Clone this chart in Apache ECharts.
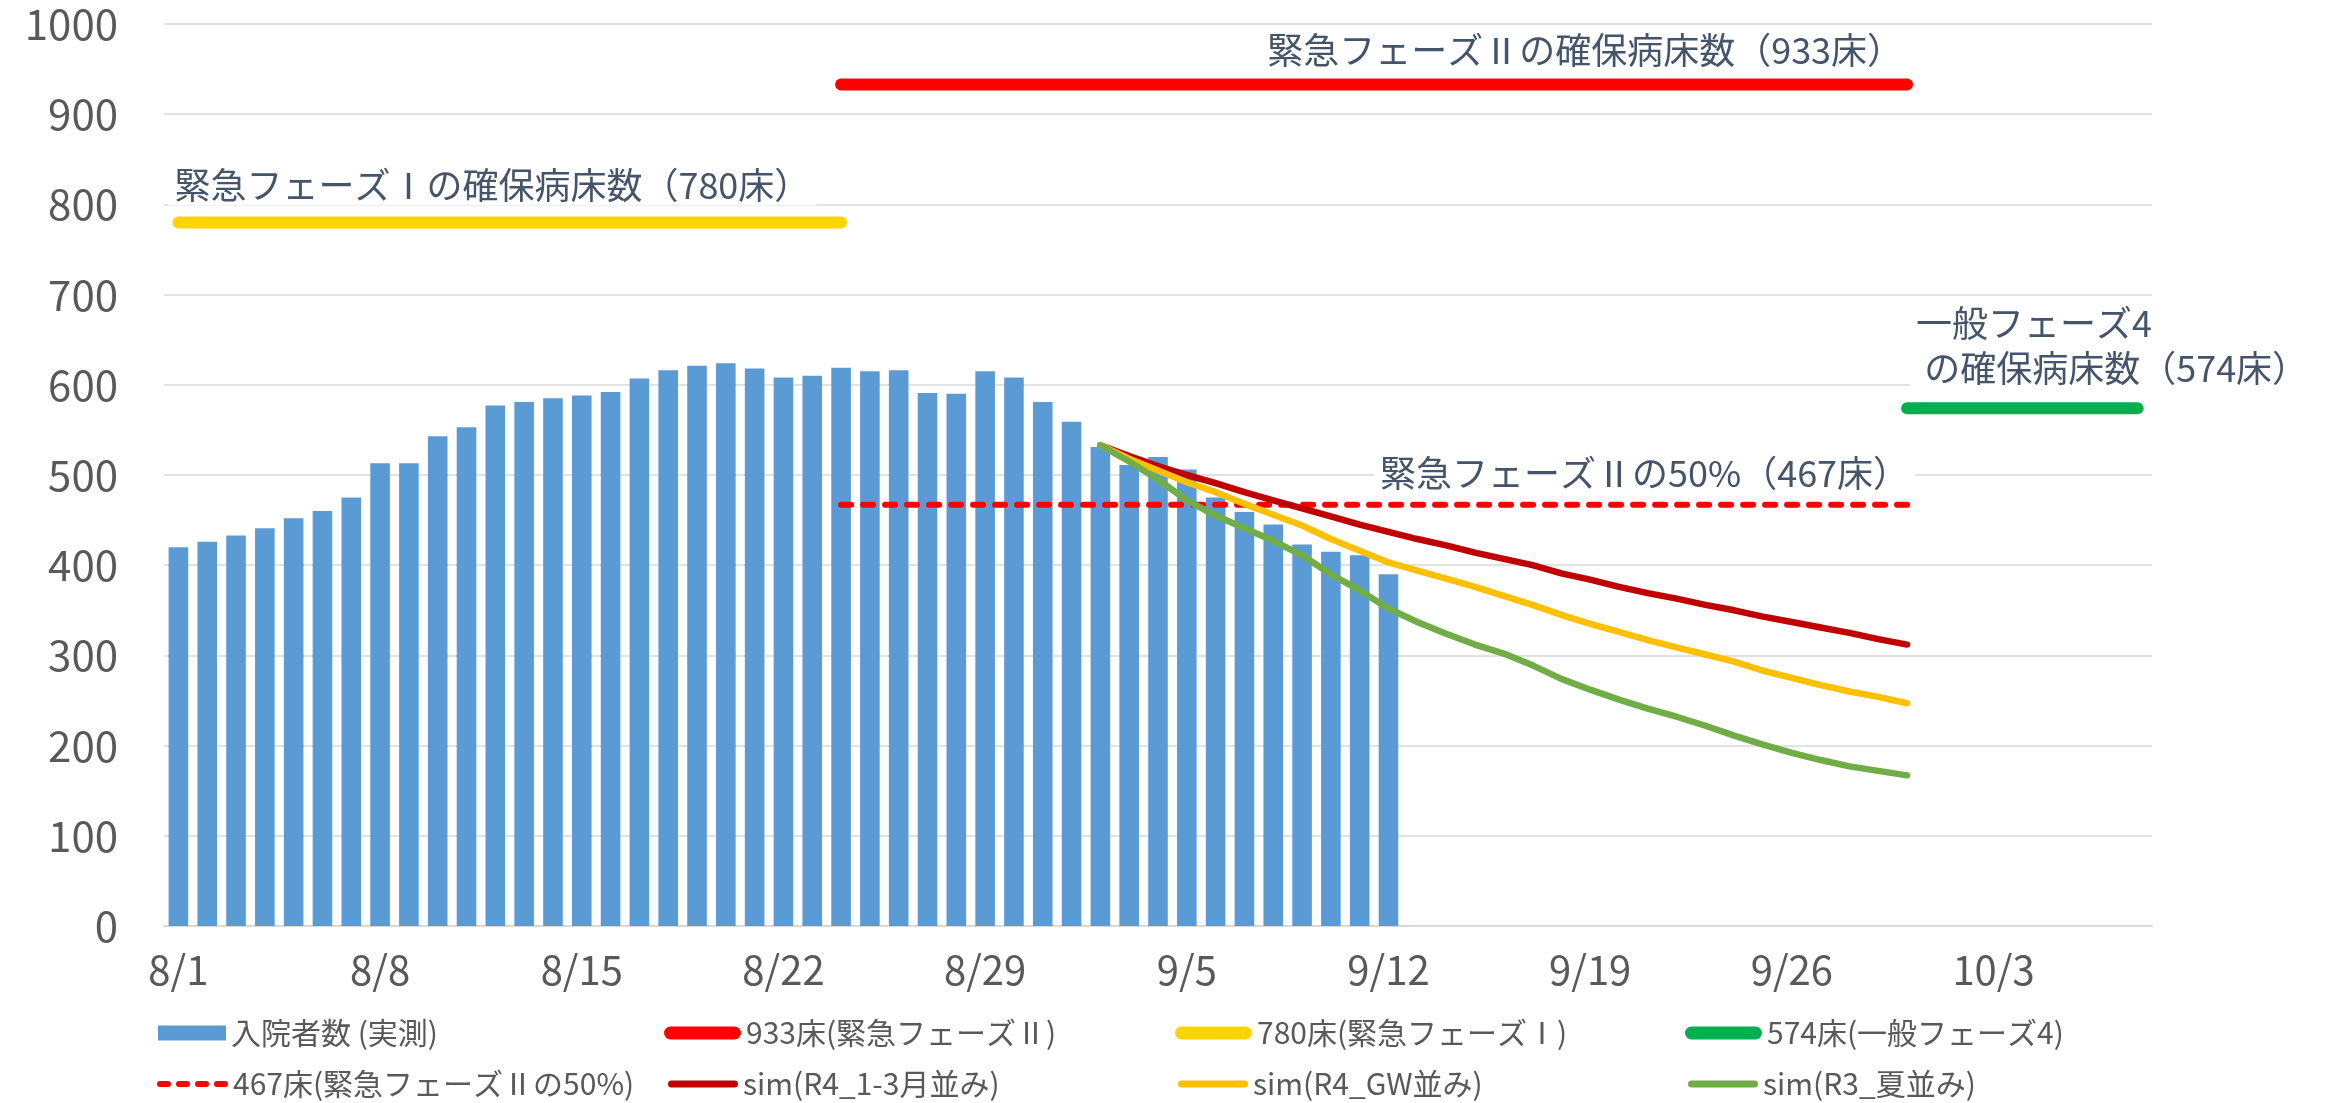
<!DOCTYPE html>
<html>
<head>
<meta charset="utf-8">
<script src="https://cdn.jsdelivr.net/npm/echarts@6/dist/echarts.min.js"></script>
<style>
html, body { margin: 0; padding: 0; background: #fff; }
#chart { width: 2351px; height: 1103px; }
</style>
</head>
<body>
<div id="chart"></div>
<script>
const FONT = "'Noto Sans CJK JP', 'Noto Sans', sans-serif";

// categories: one per day, 8/1 - 10/8
const dates = [
  '8/1','8/2','8/3','8/4','8/5','8/6','8/7','8/8','8/9','8/10','8/11','8/12','8/13','8/14','8/15','8/16',
  '8/17','8/18','8/19','8/20','8/21','8/22','8/23','8/24','8/25','8/26','8/27','8/28','8/29','8/30','8/31',
  '9/1','9/2','9/3','9/4','9/5','9/6','9/7','9/8','9/9','9/10','9/11','9/12','9/13','9/14','9/15','9/16',
  '9/17','9/18','9/19','9/20','9/21','9/22','9/23','9/24','9/25','9/26','9/27','9/28','9/29','9/30',
  '10/1','10/2','10/3','10/4','10/5','10/6','10/7','10/8'
];

// 入院者数 (実測) 8/1 - 9/12
const hospitalized = [
  420, 426, 433, 441, 452, 460, 475, 513, 513, 543, 553, 577, 581, 585, 588, 592, 607, 616, 621,
  624, 618, 608, 610, 619, 615, 616, 591, 590, 615, 608, 581,
  559, 531, 511, 520, 506, 475, 459, 445, 423, 415, 411, 390
];

// simulations 9/2 - 9/30
const simStart = '9/2';
const simR4Winter = [533, 521, 510, 500, 491, 481, 472, 463, 454, 445, 437, 429, 422, 414, 407,
  400, 391, 384, 376, 369, 363, 356, 350, 343, 337, 331, 325, 318, 312];
const simR4GW = [533, 518, 505, 492, 481, 468, 456, 444, 429, 416, 403, 394, 385, 376, 366,
  356, 345, 335, 326, 317, 309, 301, 293, 283, 275, 267, 260, 254, 247];
const simR3Summer = [533, 515, 495, 472, 455, 441, 427, 411, 390, 372, 352, 337, 324, 312, 302,
  289, 274, 262, 251, 241, 232, 222, 211, 201, 192, 184, 177, 172, 167];

// bed capacity lines
const bedsPhase2 = 933, phase2Range = ['8/24', '9/30'];
const bedsPhase1 = 780, phase1Range = ['8/1', '8/24'];
const bedsGeneral4 = 574, general4Range = ['9/30', '10/8'];
const bedsPhase2Half = 467, phase2HalfRange = ['8/24', '9/30'];

const noteStyle = {
    color: '#44546A',
    fontSize: 36,
    fontFamily: FONT,
    backgroundColor: '#ffffff',
    padding: [2, 6]
};

function spanData(value, range, note) {
    const from = dates.indexOf(range[0]);
    const to = dates.indexOf(range[1]);
    return dates.map((d, i) => {
        if (i < from || i > to) return '-';
        if (note && i === (note.at === 'end' ? to : from)) {
            return {
                value: value,
                symbol: 'circle',
                symbolSize: 2,
                itemStyle: { color: 'rgba(0,0,0,0)' },
                label: Object.assign({ show: true, position: 'top' }, noteStyle, note.label)
            };
        }
        return value;
    });
}

function simData(values) {
    const from = dates.indexOf(simStart);
    return dates.map((d, i) => (i >= from && i - from < values.length) ? values[i - from] : '-');
}

function lineSeries(name, color, width, data, extra) {
    return Object.assign({
        name: name,
        type: 'line',
        symbol: 'none',
        silent: true,
        itemStyle: { color: color },
        lineStyle: { color: color, width: width, cap: 'round', join: 'round' },
        data: data
    }, extra || {});
}

const pill = (w, h) => {
    const r = h / 2;
    return 'path://M' + r + ',0H' + (w - r) + 'A' + r + ',' + r + ',0,0,1,' + (w - r) + ',' + h +
        'H' + r + 'A' + r + ',' + r + ',0,0,1,' + r + ',0Z';
};
const dashedPill = (() => {
    let p = 'path://';
    for (let k = 0; k < 4; k++) {
        const x0 = k * 19;
        p += 'M' + (x0 + 3) + ',0H' + (x0 + 11) + 'A3,3,0,0,1,' + (x0 + 11) + ',6H' + (x0 + 3) + 'A3,3,0,0,1,' + (x0 + 3) + ',0Z';
    }
    return p;
})();

const legendText = { color: '#595959', fontSize: 30, fontFamily: FONT };
function legendAt(name, left, top, w, h, icon) {
    return {
        left: left, top: top, padding: 0, selectedMode: false,
        itemWidth: w, itemHeight: h,
        textStyle: legendText,
        data: [{ name: name, icon: icon }]
    };
}

const chart = echarts.init(document.getElementById('chart'));
chart.setOption({
    animation: false,
    backgroundColor: '#ffffff',
    grid: { left: 164, right: 199, top: 24, bottom: 177 },
    legend: [
        legendAt('入院者数 (実測)', 158, 1018, 68, 15, 'rect'),
        legendAt('933床(緊急フェーズⅡ)', 664, 1018, 77, 13, pill(77, 13)),
        legendAt('780床(緊急フェーズⅠ)', 1175, 1018, 77, 13, pill(77, 13)),
        legendAt('574床(一般フェーズ4)', 1685, 1018, 77, 13, pill(77, 13)),
        legendAt('467床(緊急フェーズⅡの50%)', 157, 1069, 71, 6, dashedPill),
        legendAt('sim(R4_1-3月並み)', 668, 1069, 70, 7, pill(70, 7)),
        legendAt('sim(R4_GW並み)', 1178, 1069, 70, 7, pill(70, 7)),
        legendAt('sim(R3_夏並み)', 1688, 1069, 70, 7, pill(70, 7))
    ],
    xAxis: {
        type: 'category',
        data: dates,
        boundaryGap: true,
        axisLine: { lineStyle: { color: '#D9D9D9', width: 2 } },
        axisTick: { show: false },
        axisLabel: { interval: 6, color: '#595959', fontSize: 40, fontFamily: FONT, margin: 24 }
    },
    yAxis: {
        type: 'value',
        min: 0,
        max: 1000,
        interval: 100,
        axisLine: { show: false },
        axisTick: { show: false },
        splitLine: { lineStyle: { color: '#D9D9D9', width: 1.5 } },
        axisLabel: { color: '#595959', fontSize: 42, fontFamily: FONT, margin: 46, formatter: v => String(v) }
    },
    series: [
        {
            name: '入院者数 (実測)',
            type: 'bar',
            barWidth: '68%',
            itemStyle: { color: '#5B9BD5' },
            data: hospitalized
        },
        lineSeries('933床(緊急フェーズⅡ)', '#FF0000', 12, spanData(bedsPhase2, phase2Range, {
            at: 'end', label: { align: 'right', distance: 13, offset: [2, 0], formatter: '緊急フェーズⅡの確保病床数（933床）' }
        })),
        lineSeries('780床(緊急フェーズⅠ)', '#FCD500', 12, spanData(bedsPhase1, phase1Range, {
            at: 'start', label: { align: 'left', distance: 16, offset: [-10, 0], formatter: '緊急フェーズⅠの確保病床数（780床）' }
        })),
        lineSeries('574床(一般フェーズ4)', '#00B050', 12, spanData(bedsGeneral4, general4Range, {
            at: 'start', label: { align: 'left', distance: 14, offset: [3, 0], lineHeight: 45, formatter: '一般フェーズ4\n の確保病床数（574床）' }
        })),
        lineSeries('467床(緊急フェーズⅡの50%)', '#FF0000', 6, spanData(bedsPhase2Half, phase2HalfRange, {
            at: 'end', label: { align: 'right', distance: 10, offset: [8, 0], formatter: '緊急フェーズⅡの50%（467床）' }
        }), { lineStyle: { color: '#FF0000', width: 6, type: [10, 12], cap: 'round' } }),
        lineSeries('sim(R4_1-3月並み)', '#C00000', 6.5, simData(simR4Winter)),
        lineSeries('sim(R4_GW並み)', '#FFC000', 6.5, simData(simR4GW)),
        lineSeries('sim(R3_夏並み)', '#70AD47', 6.5, simData(simR3Summer))
    ]
});
</script>
</body>
</html>
